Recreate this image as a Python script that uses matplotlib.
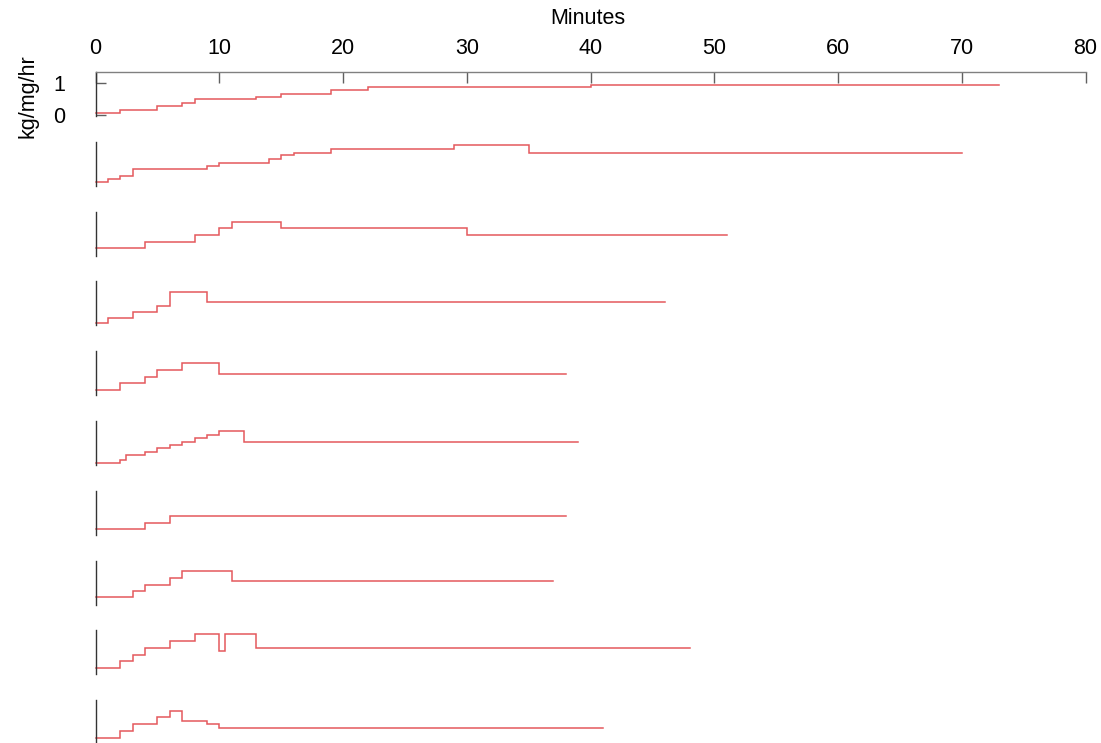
import matplotlib
matplotlib.use("Agg")
import matplotlib.pyplot as plt

plt.rcParams['font.family'] = ['Liberation Sans', 'DejaVu Sans']

# step profiles: times where the level changes, level after each change, end time
t1 = [0, 2, 5, 7, 8, 13, 15, 19, 22, 40]
v1 = [0.07, 0.17, 0.29, 0.38, 0.50, 0.57, 0.67, 0.78, 0.88, 0.95]
end1 = 73

t2 = [0, 1, 2, 3, 9, 10, 14, 15, 16, 19, 29, 35]
v2 = [0.08, 0.18, 0.29, 0.49, 0.60, 0.69, 0.82, 0.92, 1.0, 1.13, 1.23, 1.0]
end2 = 70

t3 = [0, 4, 8, 10, 11, 15, 30]
v3 = [0.20, 0.40, 0.61, 0.82, 1.02, 0.82, 0.61]
end3 = 51

t4 = [0, 1, 3, 5, 6, 9]
v4 = [0.06, 0.19, 0.40, 0.59, 1.02, 0.70]
end4 = 46

t5 = [0, 2, 4, 5, 7, 10]
v5 = [0.14, 0.34, 0.55, 0.76, 0.97, 0.64]
end5 = 38

t6 = [0, 2, 2.5, 4, 5, 6, 7, 8, 9, 10, 12]
v6 = [0.03, 0.13, 0.27, 0.39, 0.49, 0.59, 0.70, 0.80, 0.91, 1.03, 0.70]
end6 = 39

t7 = [0, 4, 6]
v7 = [0.15, 0.35, 0.56]
end7 = 38

t8 = [0, 3, 4, 6, 7, 11]
v8 = [0.20, 0.41, 0.59, 0.80, 1.03, 0.72]
end8 = 37

t9 = [0, 2, 3, 4, 6, 8, 10, 10.5, 13]
v9 = [0.17, 0.38, 0.59, 0.78, 1.01, 1.22, 0.69, 1.22, 0.80]
end9 = 48

t10 = [0, 2, 3, 5, 6, 7, 9, 10]
v10 = [0.17, 0.39, 0.60, 0.81, 1.01, 0.70, 0.60, 0.48]
end10 = 41

panels = [(t1, v1, end1), (t2, v2, end2), (t3, v3, end3), (t4, v4, end4),
          (t5, v5, end5), (t6, v6, end6), (t7, v7, end7), (t8, v8, end8),
          (t9, v9, end9), (t10, v10, end10)]

xticks = [0, 10, 20, 30, 40, 50, 60, 70, 80]

W, H = 1101, 743
fig = plt.figure(figsize=(W / 100, H / 100), dpi=100)

x0, x1 = 95.5, 1085.5
top0, step_px, ph = 72, 69.8, 44
line_col = '#e4585d'

for i, (t, v, end) in enumerate(panels):
    top = top0 + i * step_px
    ax = fig.add_axes([x0 / W, 1 - (top + ph) / H, (x1 - x0) / W, ph / H])
    ax.set_xlim(0, 80)
    ax.set_ylim(-0.03, 1.345)
    ax.step(t + [end], v + [v[-1]], where='post', color=line_col, lw=1.1,
            solid_joinstyle='miter', clip_on=False)
    for s in ['right', 'bottom']:
        ax.spines[s].set_visible(False)
    ax.spines['left'].set_color('#333333')
    ax.spines['left'].set_linewidth(1.0)
    ax.patch.set_visible(False)
    if i == 0:
        ax.spines['top'].set_color('#808080')
        ax.spines['top'].set_linewidth(1.0)
        ax.xaxis.tick_top()
        ax.set_xticks(xticks)
        ax.tick_params(axis='x', direction='in', length=8, width=1,
                       color='#606060', labelsize=15.5, pad=9)
        ax.set_yticks([0, 1])
        ax.tick_params(axis='y', direction='in', length=7, width=1,
                       color='#606060', labelsize=15.5, pad=22)
    else:
        ax.spines['top'].set_visible(False)
        ax.set_xticks([])
        ax.set_yticks([])

fig.text(588 / W, 1 - 18 / H, 'Minutes', ha='center', va='center', fontsize=15.5)
fig.text(28 / W, 1 - 96 / H, 'kg/mg/hr', ha='center', va='center',
         rotation=90, fontsize=15.5)

fig.savefig('out.png', dpi=100)
